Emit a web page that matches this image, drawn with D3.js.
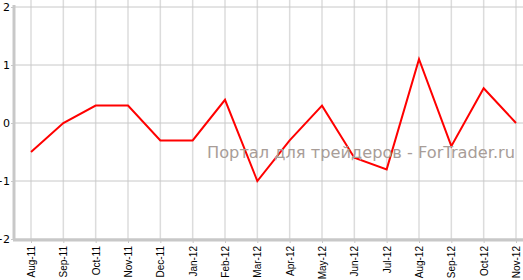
<!DOCTYPE html>
<html><head><meta charset="utf-8">
<script src="https://cdn.jsdelivr.net/npm/d3@7"></script>
<style>body{margin:0;background:#fff}svg{display:block}</style>
</head><body>
<svg id="c" width="523" height="280"></svg>
<script>
const categories = ["Aug-11","Sep-11","Oct-11","Nov-11","Dec-11","Jan-12","Feb-12","Mar-12","Apr-12","May-12","Jun-12","Jul-12","Aug-12","Sep-12","Oct-12","Nov-12"];
const values = [-0.5,0,0.3,0.3,-0.3,-0.3,0.4,-1.0,-0.3,0.3,-0.6,-0.8,1.1,-0.4,0.6,0];
const yTicks = [-2,-1,0,1,2];
const watermark = "Портал для трейдеров - ForTrader.ru";

const svg = d3.select("#c");
const x = d3.scalePoint().domain(categories).range([31,516]);
const y = d3.scaleLinear().domain([-2,2]).range([239,7]);

// vertical grid
svg.append("g").selectAll("line").data(categories).join("line")
  .attr("x1",d=>x(d)).attr("x2",d=>x(d)).attr("y1",0).attr("y2",239)
  .attr("stroke","#dcdcdc").attr("stroke-width",1.5);
// horizontal grid
svg.append("g").selectAll("line").data(yTicks).join("line")
  .attr("x1",14).attr("x2",523).attr("y1",d=>y(d)).attr("y2",d=>y(d))
  .attr("stroke","#c8c8c8").attr("stroke-width",1);

// y axis
const ya = svg.append("g").attr("transform","translate(14,0)")
  .call(d3.axisLeft(y).tickValues(yTicks).tickSize(3).tickFormat(d3.format("d")));
ya.select(".domain").attr("stroke","#c8c8c8").attr("stroke-width",3).attr("d","M0,5V240");
ya.selectAll(".tick line").attr("stroke","#c8c8c8");
ya.selectAll(".tick text").attr("x",-4).attr("font-family","DejaVu Sans").attr("font-size",11).attr("fill","#000");

// x axis
const xa = svg.append("g").attr("transform","translate(0,240)")
  .call(d3.axisBottom(x).tickSize(3));
xa.select(".domain").attr("stroke","#c8c8c8").attr("stroke-width",3).attr("d","M13,0H523");
xa.selectAll(".tick line").attr("stroke","#c8c8c8");
xa.selectAll(".tick text").attr("font-family","Liberation Sans, Arial").attr("font-size",10).attr("fill","#000")
  .attr("transform","rotate(-90)").attr("text-anchor","end").attr("x",-6).attr("y",0).attr("dy","0.35em");

// line
svg.append("path").datum(values)
  .attr("d", d3.line().x((d,i)=>x(categories[i])).y(d=>y(d)))
  .attr("fill","none").attr("stroke","#ff0000").attr("stroke-width",2).attr("stroke-linejoin","miter");

// watermark
svg.append("text").attr("x",207).attr("y",158).text(watermark)
  .attr("font-family","DejaVu Sans").attr("font-size",16).attr("fill","#a89d98")
  .attr("textLength",308).attr("lengthAdjust","spacingAndGlyphs");
</script>
</body></html>
